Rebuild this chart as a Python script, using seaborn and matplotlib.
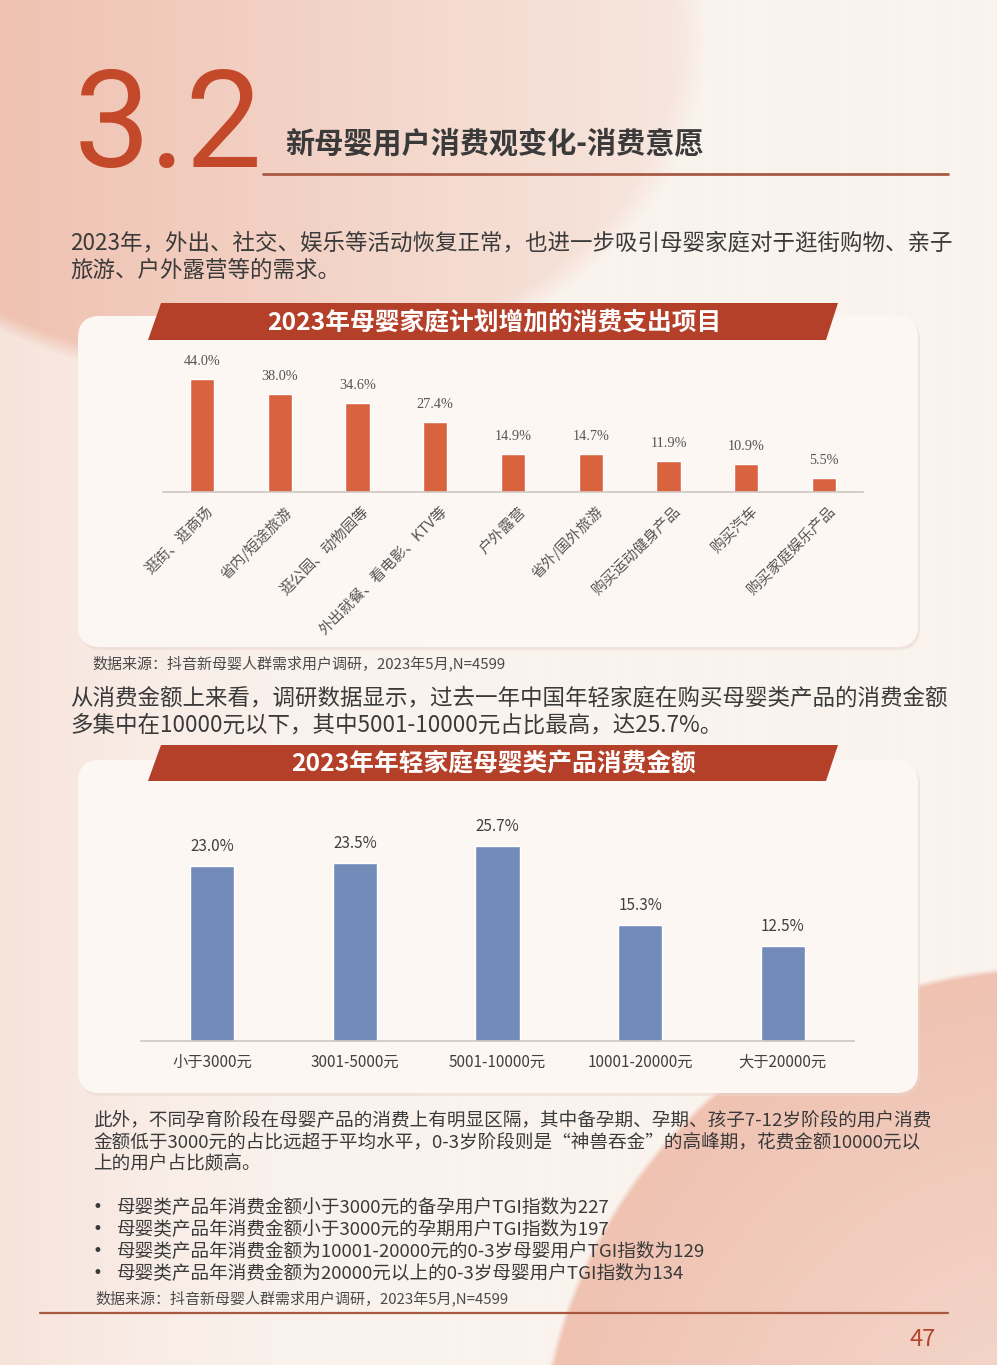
import numpy as np
import pandas as pd
import seaborn as sns
import matplotlib.pyplot as plt
from matplotlib.patches import FancyBboxPatch, Polygon
import matplotlib.transforms as mtransforms

# chart data
items = ['逛街、逛商场', '省内/短途旅游', '逛公园、动物园等', '外出就餐、看电影、KTV等', '户外露营',
         '省外/国外旅游', '购买运动健身产品', '购买汽车', '购买家庭娱乐产品']
item_pct = [44.0, 38.0, 34.6, 27.4, 14.9, 14.7, 11.9, 10.9, 5.5]

spend_bins = ['小于3000元', '3001-5000元', '5001-10000元', '10001-20000元', '大于20000元']
spend_pct = [23.0, 23.5, 25.7, 15.3, 12.5]

# page text
page_no = '47'
section_no = '3.2'
section_title = '新母婴用户消费观变化-消费意愿'
chart1_title = '2023年母婴家庭计划增加的消费支出项目'
chart2_title = '2023年年轻家庭母婴类产品消费金额'
para1 = ['2023年，外出、社交、娱乐等活动恢复正常，也进一步吸引母婴家庭对于逛街购物、亲子',
         '旅游、户外露营等的需求。']
para2 = ['从消费金额上来看，调研数据显示，过去一年中国年轻家庭在购买母婴类产品的消费金额',
         '多集中在10000元以下，其中5001-10000元占比最高，达25.7%。']
para3 = ['此外，不同孕育阶段在母婴产品的消费上有明显区隔，其中备孕期、孕期、孩子7-12岁阶段的用户消费',
         '金额低于3000元的占比远超于平均水平，0-3岁阶段则是“神兽吞金”的高峰期，花费金额10000元以',
         '上的用户占比颇高。']
bullets = ['母婴类产品年消费金额小于3000元的备孕用户TGI指数为227',
           '母婴类产品年消费金额小于3000元的孕期用户TGI指数为197',
           '母婴类产品年消费金额为10001-20000元的0-3岁母婴用户TGI指数为129',
           '母婴类产品年消费金额为20000元以上的0-3岁母婴用户TGI指数为134']
source = '数据来源：抖音新母婴人群需求用户调研，2023年5月,N=4599'

sns.set_theme(style='white')
plt.rcParams['font.family'] = ['Noto Sans CJK SC', 'DejaVu Sans']

W, H = 997, 1365
fig = plt.figure(figsize=(W / 100, H / 100), dpi=100)

# background in pixel coordinates
bg = fig.add_axes([0, 0, 1, 1])
bg.set_xlim(0, W)
bg.set_ylim(H, 0)
bg.axis('off')

yy, xx = np.mgrid[0:H, 0:W].astype(float)
cream = np.array([250, 243, 238]) / 255
salmon = np.array([236, 180, 160]) / 255
img = np.ones((H, W, 3)) * cream
# soft pink towards the left edge
s_left = np.clip(1 - xx / 420, 0, 1) ** 2 * 0.25
# top-left blob
e = ((xx - 240) / 450) ** 2 + ((yy - 40) / 335) ** 2
inside = np.clip((1.08 - e) / 0.14, 0, 1)
s_top = inside * (0.18 + 0.6 * np.clip(1 - xx / 700, 0, 1))
# bottom-right blob
d = np.sqrt((xx - 1050) ** 2 + (yy - 1480) ** 2)
inside2 = np.clip((515 - d) / 6, 0, 1)
s_br = inside2 * (0.78 - 0.3 * np.clip((515 - d) / 400, 0, 1))
s = np.clip(np.maximum(np.maximum(s_left, s_top), s_br), 0, 1)[..., None]
img = img * (1 - s) + salmon * s
bg.imshow(img, extent=(0, W, H, 0), aspect='auto', zorder=0)

# white panels
for y0, y1 in [(316, 647), (760, 1093)]:
    bg.add_patch(FancyBboxPatch((80, y0 + 3), 840, y1 - y0, boxstyle='round,pad=0,rounding_size=22',
                                fc='#ead6cc', ec='none', alpha=0.5, zorder=1))
    bg.add_patch(FancyBboxPatch((78, y0), 840, y1 - y0, boxstyle='round,pad=0,rounding_size=22',
                                fc='#fdf7f4', ec='none', zorder=2))

# banners
for y0, y1, title in [(303, 340, chart1_title), (745, 781, chart2_title)]:
    bg.add_patch(Polygon([(148, y1), (161, y0), (838, y0), (826, y1)], closed=True,
                         fc='#b5402a', ec='none', zorder=3))
    bg.text(494, (y0 + y1) / 2 + 1, title, color='white', fontsize=17.8, fontweight='bold',
            ha='center', va='center', zorder=4)

# header
bg.text(74, 167, section_no, family=['Roboto', 'DejaVu Sans'],
        fontsize=98, color='#c4482a', ha='left', va='baseline', zorder=4)
bg.text(285, 143, section_title, fontsize=21, fontweight='bold', color='#3a3a3a',
        ha='left', va='center', zorder=4)
bg.plot([263, 948], [174, 174], color='#a85a45', lw=2, zorder=4)

txt = '#3a3a3a'
for i, line in enumerate(para1):
    bg.text(70, 243 + 27 * i, line, fontsize=16.2, color=txt, ha='left', va='center', zorder=4)
bg.text(92, 663, source, fontsize=10.8, color='#4a4a4a', ha='left', va='center', zorder=4)
for i, line in enumerate(para2):
    bg.text(70, 698 + 27 * i, line, fontsize=16.2, color=txt, ha='left', va='center', zorder=4)
for i, line in enumerate(para3):
    bg.text(93, 1120 + 22 * i, line, fontsize=13.4, color=txt, ha='left', va='center', zorder=4)
for i, line in enumerate(bullets):
    bg.text(97, 1207 + 22 * i, '•', family=['DejaVu Sans'], fontsize=12, color=txt,
            ha='center', va='center', zorder=4)
    bg.text(117, 1207 + 22 * i, line, fontsize=13.4, color=txt, ha='left', va='center', zorder=4)
bg.text(95, 1298, source, fontsize=10.8, color='#4a4a4a', ha='left', va='center', zorder=4)
bg.plot([40, 948], [1313, 1313], color='#a8583f', lw=1.6, zorder=4)
bg.text(936, 1340, page_no, fontsize=17, color='#b5452e', ha='right', va='center', zorder=4)


def px_axes(x0, x1, ytop, ybot):
    return fig.add_axes([x0 / W, 1 - ybot / H, (x1 - x0) / W, (ybot - ytop) / H])


# chart 1
ax1 = px_axes(163, 863, 340, 492)
ax1.set_zorder(5)
ax1.patch.set_alpha(0)
df1 = pd.DataFrame({'item': items, 'pct': item_pct})
sns.barplot(data=df1, x='item', y='pct', order=items, color='#d9623f', saturation=1,
            width=0.31, ax=ax1)
ax1.set_xlim(-0.5, len(items) - 0.5)
ax1.set_ylim(0, 59.2)
ax1.bar_label(ax1.containers[0], labels=[f'{v:.1f}%' for v in item_pct], padding=8,
              fontsize=10.3, color='#555555', family=['Liberation Serif', 'DejaVu Serif'])
ax1.set_xlabel('')
ax1.set_ylabel('')
ax1.set_yticks([])
for sp in ['top', 'right', 'left']:
    ax1.spines[sp].set_visible(False)
ax1.spines['bottom'].set_color('#cfc6c2')
ax1.spines['bottom'].set_linewidth(1.2)
ax1.tick_params(axis='x', length=0, pad=6)
ax1.set_xticks(range(len(items)))
ax1.set_xticklabels(items, rotation=45, ha='right', va='center', rotation_mode='anchor',
                    fontsize=10.6, color='#555555')
offset = mtransforms.ScaledTranslation(10 / 100, -9 / 100, fig.dpi_scale_trans)
for lab in ax1.get_xticklabels():
    lab.set_transform(lab.get_transform() + offset)

# chart 2
ax2 = px_axes(141, 854, 800, 1041)
ax2.set_zorder(5)
ax2.patch.set_alpha(0)
df2 = pd.DataFrame({'bin': spend_bins, 'pct': spend_pct})
sns.barplot(data=df2, x='bin', y='pct', order=spend_bins, color='#728bb9', saturation=1,
            width=0.31, ax=ax2)
ax2.set_xlim(-0.5, len(spend_bins) - 0.5)
ax2.set_ylim(0, 31.75)
ax2.bar_label(ax2.containers[0], labels=[f'{v:.1f}%' for v in spend_pct], padding=8,
              fontsize=11, color='#404040')
ax2.set_xlabel('')
ax2.set_ylabel('')
ax2.set_yticks([])
for sp in ['top', 'right', 'left']:
    ax2.spines[sp].set_visible(False)
ax2.spines['bottom'].set_color('#cfc6c2')
ax2.spines['bottom'].set_linewidth(1.2)
ax2.tick_params(axis='x', length=0, pad=9, labelsize=11, labelcolor='#404040')

fig.savefig('out.png', dpi=100)
